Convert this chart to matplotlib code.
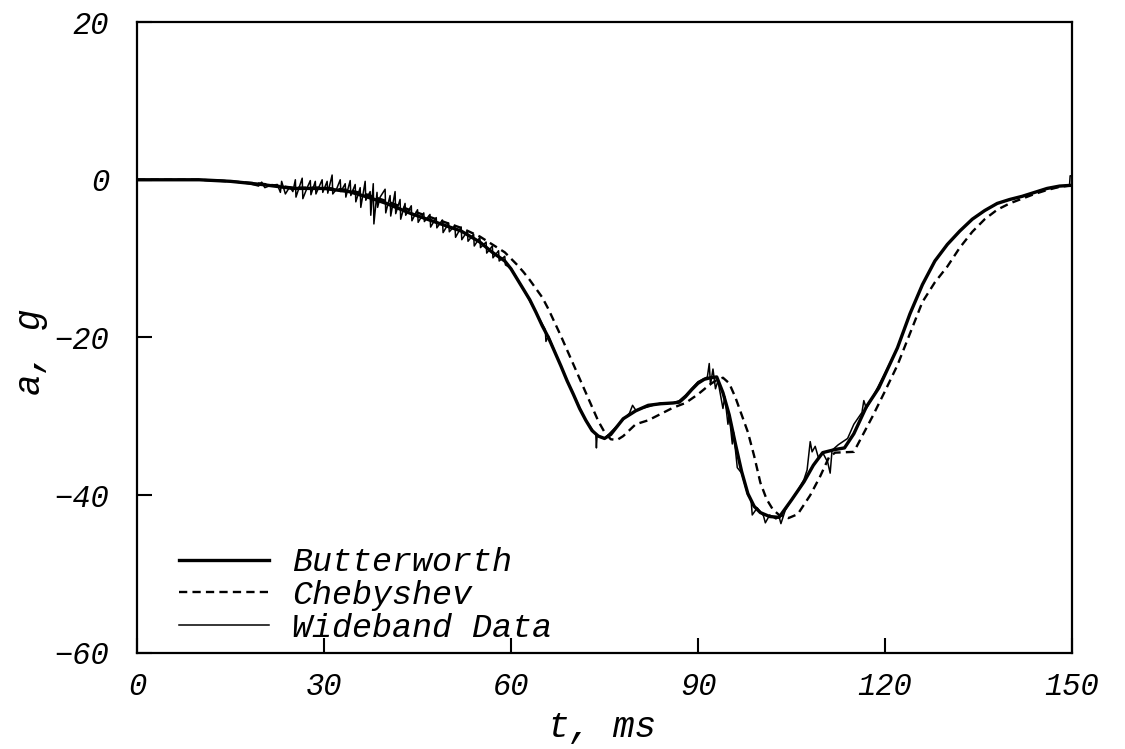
import matplotlib
matplotlib.use("Agg")
import matplotlib.pyplot as plt

# Butterworth-filtered acceleration, g vs ms
butter_t = [0, 5, 10, 15, 20, 25, 30, 34, 37, 40, 44, 48, 52, 55, 57, 59,
            60, 61, 62, 63, 64, 65, 66, 67, 68, 69, 70, 71, 72, 73, 74, 75,
            76, 77, 78, 80, 82, 84, 86, 87, 88, 89, 90, 91, 92, 93, 94, 95,
            96, 97, 98, 99, 100, 101.5, 103, 105, 107, 108.5, 110, 112, 113.5,
            115, 117, 119, 121, 122, 124, 126, 128, 130, 132, 134, 136, 138,
            140, 142, 144, 146, 148, 150]
butter_a = [0, 0, 0, -0.2, -0.6, -1.1, -1.1, -1.5, -2.2, -3.0, -4.3, -5.4,
            -6.5, -7.9, -9.2, -10.3, -11.3, -12.6, -13.9, -15.2, -16.8, -18.5,
            -20.0, -21.8, -23.6, -25.5, -27.2, -29.0, -30.5, -31.8, -32.5,
            -32.8, -32.3, -31.3, -30.3, -29.3, -28.6, -28.4, -28.3, -28.2,
            -27.5, -26.6, -25.8, -25.3, -25.1, -25.0, -27.0, -29.8, -33.5,
            -37.0, -39.8, -41.4, -42.2, -42.7, -42.8, -40.6, -38.3, -36.2,
            -34.6, -34.2, -34.0, -32.2, -28.8, -26.4, -23.0, -21.3, -17.0,
            -13.3, -10.3, -8.2, -6.5, -5.0, -3.9, -3.0, -2.5, -2.1, -1.6,
            -1.1, -0.8, -0.7]

# Chebyshev-filtered acceleration
cheb_t = [0, 5, 10, 15, 20, 25, 30, 34, 37, 40, 44, 48, 52, 55, 57, 59, 60,
          61, 62, 63, 64, 65, 66, 67, 68, 69, 70, 71, 72, 73, 74, 75, 76, 77,
          78, 80, 82, 84, 86, 88, 90, 92, 93, 94, 95, 96, 97, 98, 99, 100,
          101, 102, 103, 104.5, 106, 108, 109.6, 111, 112, 115, 116, 118,
          120, 122, 124, 126, 128, 130, 132, 134, 136, 138, 140, 142, 144,
          146, 148, 150]
cheb_a = [0, 0, 0, -0.2, -0.5, -1.0, -1.0, -1.3, -1.9, -2.7, -3.9, -5.0,
          -6.1, -7.2, -8.2, -9.2, -10.0, -10.8, -11.7, -12.7, -13.8, -14.9,
          -16.4, -18.1, -19.8, -21.6, -23.4, -25.2, -27.0, -28.8, -30.6,
          -32.0, -32.9, -33.0, -32.5, -31.0, -30.5, -29.7, -28.9, -28.3,
          -27.2, -25.9, -25.4, -25.1, -25.8, -27.6, -29.8, -32.0, -35.0,
          -38.4, -40.5, -41.8, -42.5, -42.9, -42.4, -40.0, -37.6, -35.2,
          -34.6, -34.5, -33.0, -30.0, -26.8, -23.5, -19.5, -15.5, -13.0,
          -11.0, -8.6, -6.6, -5.0, -3.8, -3.0, -2.4, -1.8, -1.3, -0.9, -0.7]

# unfiltered wideband record
wide_t = [0, 5, 10, 14, 16, 18, 19.5, 20, 20.5, 21.5, 22.5, 23.0, 23.2, 23.8,
          24.5, 25.0, 25.4, 25.5, 26.5, 26.6, 27.3, 27.8, 27.9, 28.6, 28.7,
          29.7, 29.8, 30.5, 30.6, 31.3, 31.4, 32.0, 32.6, 32.7, 33.4, 33.5,
          34.2, 34.3, 35.0, 35.1, 35.8, 35.9, 36.6, 36.7, 37.4, 37.5, 37.9,
          38.0, 38.5, 38.6, 39.0, 39.8, 39.9, 40.6, 40.7, 41.4, 41.5, 42.2,
          42.3, 43.0, 43.1, 44.0, 44.1, 45.0, 45.1, 46.0, 46.1, 47.0, 47.1,
          48.0, 48.1, 49.0, 49.1, 50.0, 50.1, 51.0, 51.1, 52.0, 52.1, 53.0,
          53.1, 54.0, 54.1, 55.0, 55.1, 56.0, 56.1, 57.0, 57.1, 58.0, 58.1,
          59.0, 59.1, 60, 62, 64, 65.5, 65.6, 66, 68, 70, 72, 73.6, 73.7,
          73.8, 75, 77, 79, 79.5, 80, 82, 84, 86, 87, 88, 90, 91.5, 91.8,
          92.0, 92.4, 92.8, 93.2, 94.0, 94.3, 94.8, 95.0, 95.5, 95.7, 96.3,
          97, 98, 98.5, 98.7, 99.5, 100.5, 100.8, 101.5, 102.5, 103, 103.3,
          104, 105, 106, 107, 107.5, 108, 108.3, 108.8, 109.3, 110, 110.8,
          111.2, 111.5, 112.5, 114, 115, 116.3, 116.6, 117, 118, 120, 122,
          124, 126, 128, 130, 132, 134, 136, 138, 140, 142, 144, 146, 148,
          149.6, 149.7, 150]
wide_a = [0, 0, 0, -0.1, -0.3, -0.5, -0.8, -0.3, -1.0, -0.7, -0.6, -1.6,
          -0.2, -1.8, -0.9, -1.5, 0.0, -2.2, 0.2, -2.4, -1.0, -0.1, -1.9,
          -0.2, -1.8, 0.0, -1.6, -0.2, -1.7, 0.6, -1.8, -1.2, 0.0, -1.5,
          -0.5, -2.2, -0.1, -2.0, -0.6, -2.8, -1.0, -3.5, -0.2, -2.6, -1.5,
          -4.5, -0.5, -5.6, -1.6, -3.5, -2.2, -1.2, -4.2, -2.0, -4.6, -1.5,
          -4.3, -2.5, -5.0, -3.0, -4.5, -3.3, -5.2, -3.8, -5.4, -4.2, -5.3,
          -4.4, -6.0, -4.8, -6.1, -5.1, -6.7, -5.5, -6.6, -5.8, -7.3, -6.0,
          -7.6, -6.5, -7.8, -6.9, -8.4, -7.3, -8.6, -7.9, -9.3, -8.4, -9.9,
          -9.0, -10.3, -9.7, -10.8, -11.2, -13.9, -16.8, -19.0, -20.5, -19.8,
          -23.6, -27.2, -30.5, -32.3, -34.0, -32.5, -32.8, -31.2, -29.6,
          -28.6, -29.2, -28.8, -28.3, -28.3, -28.0, -27.3, -25.6, -25.0,
          -23.3, -26.0, -24.0, -26.5, -25.5, -29.0, -27.5, -31.0, -29.8,
          -33.5, -32.0, -36.5, -37.2, -40.0, -40.5, -42.5, -41.6, -42.6,
          -43.5, -42.5, -43.0, -42.7, -43.6, -41.9, -40.6, -39.4, -38.0,
          -36.8, -33.2, -34.5, -33.8, -35.2, -34.6, -35.8, -37.2, -34.3,
          -33.6, -32.8, -31.0, -29.5, -28.0, -29.0, -27.6, -24.5, -21.3,
          -17.0, -13.3, -10.3, -8.2, -6.5, -5.0, -3.9, -3.0, -2.5, -2.1,
          -1.6, -1.1, -0.8, -0.7, 0.5, 0.5]

x_ticks = [0, 30, 60, 90, 120, 150]
y_ticks = [-60, -40, -20, 0, 20]

plt.rcParams["font.family"] = ["Liberation Mono", "DejaVu Sans Mono"]
plt.rcParams["font.style"] = "italic"

fig = plt.figure(figsize=(11.25, 7.49), dpi=100)
ax = fig.add_axes([0.1218, 0.1282, 0.8311, 0.8424])

ax.plot(butter_t, butter_a, color="black", lw=2.4, label="Butterworth")
ax.plot(cheb_t, cheb_a, color="black", lw=1.7, linestyle=(0, (3.5, 2.2)),
        label="Chebyshev")
ax.plot(wide_t, wide_a, color="black", lw=1.1, label="Wideband Data")

ax.set_xlim(0, 150)
ax.set_ylim(-60, 20)
ax.set_xticks(x_ticks)
ax.set_yticks(y_ticks)
ax.tick_params(direction="in", length=11, width=1.5, labelsize=22)
ax.tick_params(axis="x", pad=14)
ax.tick_params(axis="y", pad=20)
for s in ax.spines.values():
    s.set_linewidth(1.6)

# axis titles placed in figure pixels
fig.text(602 / 1125, 1 - 728 / 749, "t, ms", fontsize=26,
         ha="center", va="center")
fig.text(30 / 1125, 1 - 352 / 749, "a, g", fontsize=26, rotation=90,
         ha="center", va="center")

ax.legend(loc="lower left", bbox_to_anchor=(0.02, -0.022), frameon=False,
          fontsize=24, handlelength=2.7, handletextpad=0.7,
          labelspacing=0.05, borderaxespad=0.3)

fig.savefig("out.png", dpi=100)
